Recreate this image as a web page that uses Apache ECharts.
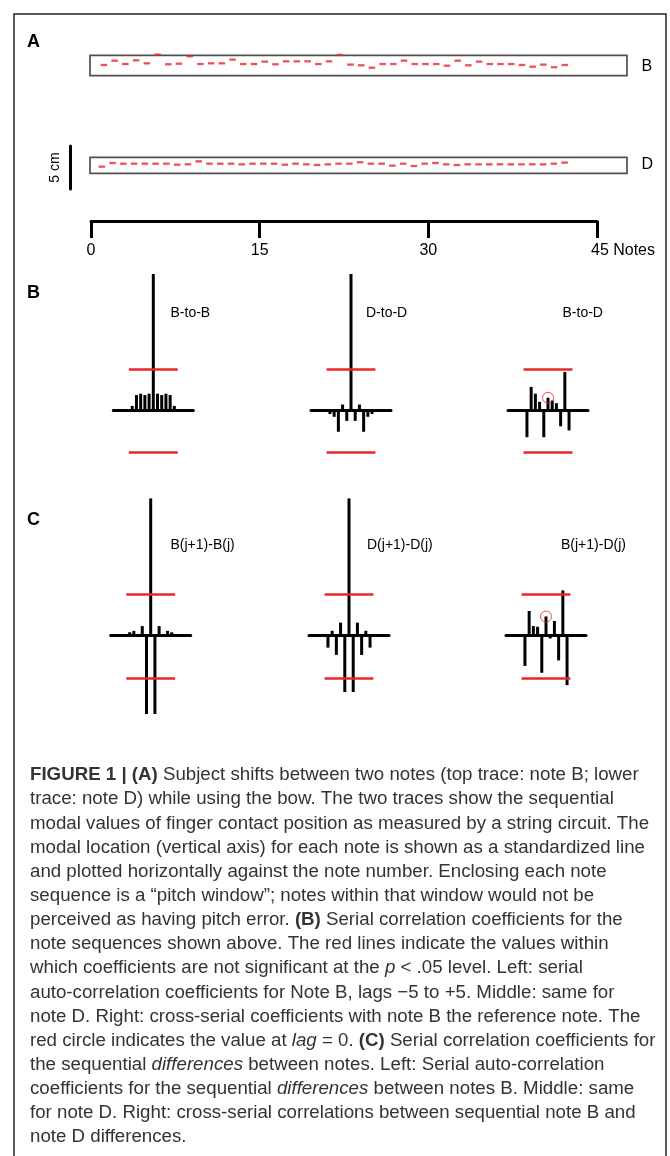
<!DOCTYPE html>
<html>
<head>
<meta charset="utf-8">
<script src="https://cdn.jsdelivr.net/npm/echarts@6/dist/echarts.min.js"></script>
<style>
  html, body { margin: 0; padding: 0; background: #fff; }
  #chart { width: 670px; height: 1156px; }
</style>
</head>
<body>
<div id="chart"></div>
<script>
// Panel A: modal finger position of each note, cm from the middle of the pitch window
const traceB = [0.06, 0.56, 0.17, 0.60, 0.25, 1.26, 0.14, 0.21, 1.07, 0.17, 0.25, 0.25, 0.68, 0.17, 0.17,
  0.45, 0.14, 0.48, 0.48, 0.48, 0.17, 0.48, 1.22, 0.10, 0.02, -0.25, 0.17, 0.17, 0.56, 0.17,
  0.17, 0.17, -0.02, 0.56, 0.02, 0.45, 0.17, 0.17, 0.17, 0.06, -0.14, 0.10, -0.20, 0.06]
const traceD = [-0.16, 0.27, 0.19, 0.19, 0.19, 0.19, 0.19, 0.07, 0.11, 0.46, 0.19, 0.19, 0.19, 0.11, 0.19,
  0.19, 0.19, 0.07, 0.19, 0.11, 0.03, 0.11, 0.19, 0.19, 0.35, 0.19, 0.19, -0.04, 0.19, -0.08,
  0.19, 0.27, 0.11, 0.03, 0.11, 0.11, 0.11, 0.11, 0.11, 0.11, 0.11, 0.11, 0.19, 0.31]
const windowB = 1.18   // half height of the pitch window, cm
const windowD = 0.93
const noteAxis = [0, 45]
const noteStep = 15
const scaleBarCm = 5

// Panels B and C: correlation coefficients, lags -5..+5
const lags = [-5, -4, -3, -2, -1, 0, 1, 2, 3, 4, 5]
const acfB = [0.03, 0.11, 0.12, 0.11, 0.12, 1, 0.12, 0.11, 0.12, 0.11, 0.03]
const acfD = [-0.03, -0.05, -0.16, 0.04, -0.08, 1, -0.08, 0.04, -0.16, -0.05, -0.03]
const ccfBD = [-0.2, 0.17, 0.12, 0.06, -0.2, 0.09, 0.07, 0.05, -0.12, 0.28, -0.15]
const acfDiffB = [0.025, 0.035, 0, 0.07, -0.57, 1, -0.57, 0.07, 0, 0.035, 0.025]
const acfDiffD = [-0.087, 0.036, -0.14, 0.095, -0.41, 1, -0.41, 0.095, -0.14, 0.036, -0.087]
const ccfDiffBD = [-0.22, 0.18, 0.07, 0.065, -0.27, 0.14, -0.02, 0.107, -0.18, 0.33, -0.36]
const sigLevel = [0.3, -0.31]

const RED = '#e8262b'
const FONT = 'Liberation Sans'

const chart = echarts.init(document.getElementById('chart'), null, { renderer: 'canvas' })

const grids = []
const xAxes = []
const yAxes = []
const series = []

const hidden = { show: false }

// the two note traces, each framed by its pitch window
function addTrace (data, top, height, win, xMin) {
  const i = grids.length
  grids.push({
    left: 90, top: top, width: 537, height: height,
    show: true, borderColor: '#505050', borderWidth: 1.7, backgroundColor: '#fff'
  })
  xAxes.push({ gridIndex: i, type: 'value', min: xMin, max: 49.8, show: false })
  yAxes.push({ gridIndex: i, type: 'value', min: -win, max: win, show: false })
  series.push({
    type: 'scatter',
    xAxisIndex: i, yAxisIndex: i,
    clip: false,
    symbol: 'rect',
    symbolSize: [6.5, 2.3],
    itemStyle: { color: RED },
    data: data.map((v, k) => [k + 1, v])
  })
}

addTrace(traceB, 55.3, 20.4, windowB, -0.3)
addTrace(traceD, 157.3, 16, windowD, -0.1)

// note number axis
grids.push({ left: 91, top: 190, width: 506, height: 31 })
xAxes.push({
  gridIndex: grids.length - 1, type: 'value', min: noteAxis[0], max: noteAxis[1], interval: noteStep,
  axisLine: { lineStyle: { color: '#000', width: 3 } },
  axisTick: { length: 17, lineStyle: { color: '#000', width: 3 } },
  splitLine: hidden,
  axisLabel: {
    margin: 22, color: '#000', fontSize: 16, fontFamily: FONT,
    formatter: v => v === noteAxis[1] ? '{n|' + v + ' Notes}' : String(v),
    rich: { n: { fontSize: 16, fontFamily: FONT, color: '#000', padding: [0, 0, 0, 52] } }
  }
})
yAxes.push({ gridIndex: grids.length - 1, type: 'value', show: false })

// 5 cm scale bar
grids.push({ left: 70.5, top: 146, width: 20, height: 43 })
xAxes.push({ gridIndex: grids.length - 1, type: 'value', show: false })
yAxes.push({
  gridIndex: grids.length - 1, type: 'value', min: 0, max: scaleBarCm,
  axisLine: { show: true, lineStyle: { color: '#000', width: 3 } },
  axisTick: hidden, axisLabel: hidden, splitLine: hidden,
  name: scaleBarCm + ' cm', nameLocation: 'middle', nameRotate: 90, nameGap: 8,
  nameTextStyle: { fontSize: 14, fontFamily: FONT, color: '#000' }
})

// one correlogram
function addCorr (values, cx, baseY, unit, circle) {
  const i = grids.length
  grids.push({ left: cx - 40, top: baseY - unit, width: 80, height: unit * 1.6 })
  xAxes.push({
    gridIndex: i, type: 'value', min: -9.5, max: 9.5,
    axisLine: { onZero: true, lineStyle: { color: '#000', width: 3 } },
    axisTick: hidden, axisLabel: hidden, splitLine: hidden
  })
  yAxes.push({ gridIndex: i, type: 'value', min: -0.6, max: 1, show: false })
  series.push({
    type: 'bar',
    xAxisIndex: i, yAxisIndex: i,
    barWidth: 3,
    itemStyle: { color: '#000' },
    data: lags.map((l, k) => [l, values[k]]),
    markLine: {
      silent: true, symbol: 'none',
      label: hidden,
      lineStyle: { color: RED, width: 2.5, type: 'solid' },
      data: sigLevel.map(s => [{ coord: [-5.8, s] }, { coord: [5.8, s] }])
    }
  })
  if (circle) {
    series.push({
      type: 'scatter',
      xAxisIndex: i, yAxisIndex: i,
      symbol: 'circle', symbolSize: 11,
      itemStyle: { color: 'rgba(0,0,0,0)', borderColor: RED, borderWidth: 1 },
      data: [[0, values[lags.indexOf(0)]]]
    })
  }
}

addCorr(acfB, 153.3, 410, 136, false)
addCorr(acfD, 351, 410, 136, false)
addCorr(ccfBD, 548, 410, 136, true)
addCorr(acfDiffB, 150.7, 635.7, 137.3, false)
addCorr(acfDiffD, 349, 635.7, 137.3, false)
addCorr(ccfDiffBD, 546, 635.7, 137.3, true)

function txt (x, y, text, size, weight, align) {
  return {
    type: 'text', x: x, y: y, silent: true,
    style: {
      text: text, fontSize: size, fontWeight: weight || 'normal', fontFamily: FONT,
      fill: '#000', align: align || 'left', verticalAlign: 'middle'
    }
  }
}

const caption = [
  '{b|FIGURE 1 | (A)} Subject shifts between two notes (top trace: note B; lower',
  'trace: note D) while using the bow. The two traces show the sequential',
  'modal values of finger contact position as measured by a string circuit. The',
  'modal location (vertical axis) for each note is shown as a standardized line',
  'and plotted horizontally against the note number. Enclosing each note',
  'sequence is a \u201Cpitch window\u201D; notes within that window would not be',
  'perceived as having pitch error. {b|(B)} Serial correlation coefficients for the',
  'note sequences shown above. The red lines indicate the values within',
  'which coefficients are not significant at the {i|p} < .05 level. Left: serial',
  'auto-correlation coefficients for Note B, lags \u22125 to +5. Middle: same for',
  'note D. Right: cross-serial coefficients with note B the reference note. The',
  'red circle indicates the value at {i|lag} = 0. {b|(C)} Serial correlation coefficients for',
  'the sequential {i|differences} between notes. Left: Serial auto-correlation',
  'coefficients for the sequential {i|differences} between notes B. Middle: same',
  'for note D. Right: cross-serial correlations between sequential note B and',
  'note D differences.'
].join('\n')

const capSize = 18.7
const capColor = '#333'
const capLine = 24.15

const graphic = [
  // frame
  { type: 'polyline', silent: true, shape: { points: [[14, 1156], [14, 14], [666, 14], [666, 1156]] },
    style: { stroke: '#222', lineWidth: 1.5, fill: null } },
  txt(27, 42, 'A', 18, 'bold'),
  txt(27, 293, 'B', 18, 'bold'),
  txt(27, 520, 'C', 18, 'bold'),
  txt(641.5, 67, 'B', 16),
  txt(641.5, 165, 'D', 16),
  txt(170.5, 313, 'B-to-B', 14),
  txt(366, 313, 'D-to-D', 14),
  txt(562.5, 313, 'B-to-D', 14),
  txt(170.5, 545, 'B(j+1)-B(j)', 14),
  txt(367, 545, 'D(j+1)-D(j)', 14),
  txt(561, 545, 'B(j+1)-D(j)', 14),
  {
    type: 'text', x: 30, y: 763, silent: true,
    style: {
      text: caption, fontSize: capSize, fontFamily: FONT, fill: capColor, lineHeight: capLine,
      align: 'left', verticalAlign: 'top',
      rich: {
        b: { fontSize: capSize, fontFamily: FONT, fontWeight: 'bold', fill: capColor, lineHeight: capLine },
        i: { fontSize: capSize, fontFamily: FONT, fontStyle: 'italic', fill: capColor, lineHeight: capLine }
      }
    }
  }
]

chart.setOption({
  animation: false,
  backgroundColor: '#fff',
  grid: grids,
  xAxis: xAxes,
  yAxis: yAxes,
  series: series,
  graphic: graphic
})
</script>
</body>
</html>
